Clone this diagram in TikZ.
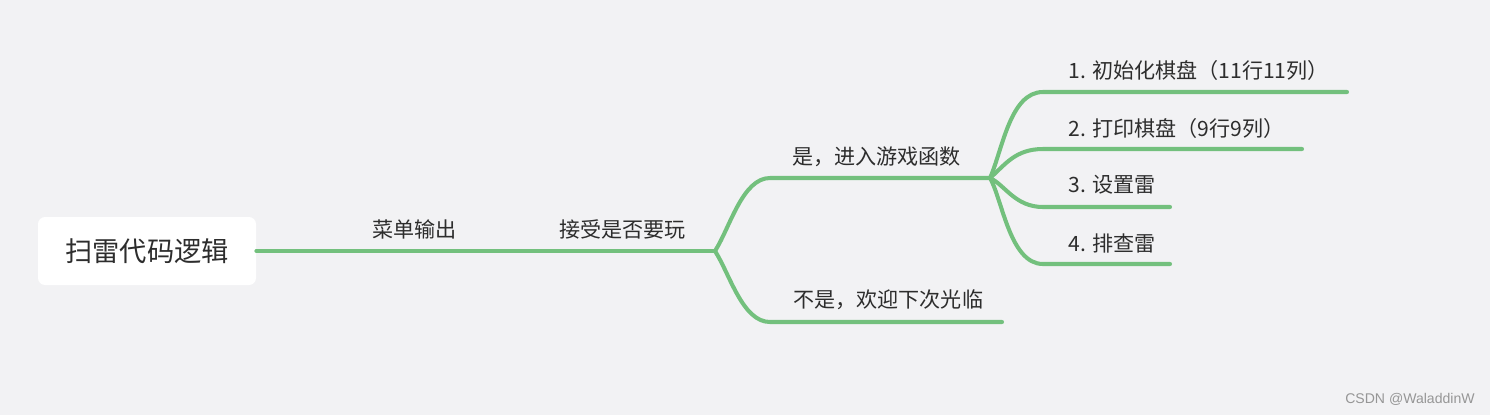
\documentclass[tikz,border=0pt]{standalone}
\usepackage{fontspec}
\setmainfont{Noto Sans CJK SC}
\newfontfamily\markfont{Liberation Sans}
\usetikzlibrary{positioning}
\definecolor{bggray}{RGB}{242,242,244}
\definecolor{mapgreen}{RGB}{115,192,125}
\definecolor{inkgray}{RGB}{45,45,45}
\definecolor{markgray}{RGB}{150,150,150}
\tikzset{
  topicbox/.style={fill=white, rounded corners=4pt, minimum width=4.36cm, minimum height=1.36cm, text=inkgray, font=\fontsize{15.5}{18}\selectfont},
  branchline/.style={draw=mapgreen, line width=2.3pt, line cap=round, line join=round},
  leaflabel/.style={anchor=west, inner sep=0pt, text=inkgray, font=\fontsize{12}{14}\selectfont},
  marktext/.style={anchor=east, inner sep=0pt, text=markgray, font=\markfont\fontsize{8}{9}\selectfont}
}

\begin{document}
\begin{tikzpicture}
  \fill[bggray] (0,0) rectangle (29.8,8.3);
  \useasboundingbox (0,0) rectangle (29.8,8.3);

  % root and first level
  \node[topicbox] (root) at (2.94,3.28) {扫雷代码逻辑};
  \node[leaflabel] (menu) at (7.44,3.72) {菜单输出};
  \node[leaflabel] (ask) at (11.18,3.72) {接受是否要玩};
  \coordinate (mid) at (9.4,3.28);
  \coordinate (split) at (14.3,3.28);
  \draw[branchline] (root.east) -- (mid);
  \draw[branchline] (mid) -- (split);

  % yes / no
  \node[leaflabel] (yes) at (15.84,5.16) {是，进入游戏函数};
  \node[leaflabel] (no) at (15.86,2.30) {不是，欢迎下次光临};
  \coordinate (yesstart) at (15.4,4.74);
  \coordinate (game) at (19.8,4.74);
  \coordinate (nostart) at (15.4,1.86);
  \coordinate (noend) at (20.04,1.86);
  \draw[branchline] (split) .. controls (14.6,3.75) and (14.85,4.74) .. (yesstart) -- (game);
  \draw[branchline] (split) .. controls (14.6,2.81) and (14.85,1.86) .. (nostart) -- (noend);

  % game steps
  \node[leaflabel] (init) at (21.36,6.90) {1. 初始化棋盘（11行11列）};
  \node[leaflabel] (show) at (21.36,5.74) {2. 打印棋盘（9行9列）};
  \node[leaflabel] (setmine) at (21.36,4.60) {3. 设置雷};
  \node[leaflabel] (findmine) at (21.36,3.44) {4. 排查雷};
  \coordinate (initend) at (26.94,6.46);
  \coordinate (showend) at (26.04,5.32);
  \coordinate (setend) at (23.40,4.16);
  \coordinate (findend) at (23.40,3.02);
  \draw[branchline] (game) .. controls (20.05,5.3) and (20.2,6.46) .. (20.86,6.46) -- (initend);
  \draw[branchline] (game) .. controls (20.1,5.0) and (20.3,5.32) .. (20.86,5.32) -- (showend);
  \draw[branchline] (game) .. controls (20.1,4.6) and (20.3,4.16) .. (20.86,4.16) -- (setend);
  \draw[branchline] (game) .. controls (20.05,4.3) and (20.2,3.02) .. (20.86,3.02) -- (findend);

  \node[marktext] (mark) at (29.5,0.32) {CSDN @WaladdinW};
\end{tikzpicture}
\end{document}
